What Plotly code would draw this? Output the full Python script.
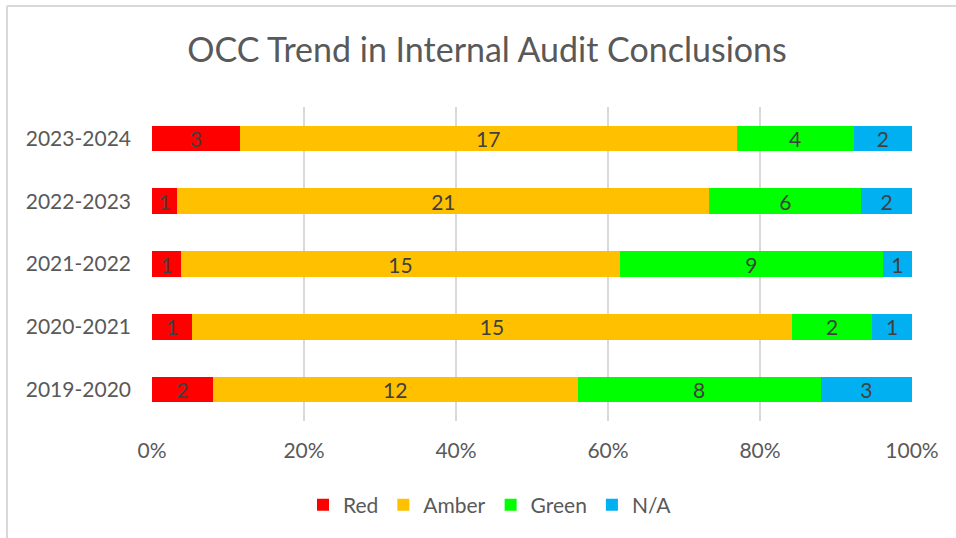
import plotly.graph_objects as go

categories = ["2019-2020", "2020-2021", "2021-2022", "2022-2023", "2023-2024"]
red = [2, 1, 1, 1, 3]
amber = [12, 15, 15, 21, 17]
green = [8, 2, 9, 6, 4]
na = [3, 1, 1, 2, 2]
tick_vals = [0, 20, 40, 60, 80, 100]
tick_text = ["0%", "20%", "40%", "60%", "80%", "100%"]

series = [("Red", red, "#FF0000"), ("Amber", amber, "#FFC000"),
          ("Green", green, "#00FF00"), ("N/A", na, "#00B0F0")]

FONT = "Lato, Calibri, sans-serif"
fig = go.Figure()
for name, vals, col in series:
    fig.add_trace(go.Bar(
        y=categories, x=vals, name=name, orientation="h",
        marker=dict(color=col, line=dict(width=0)),
        text=[str(v) for v in vals], textposition="inside",
        insidetextanchor="middle", textangle=0, constraintext="none",
        textfont=dict(family=FONT, size=21, color="#404040"),
        hoverinfo="skip",
    ))

W, H = 956, 538
L, R, T, B = 152, 44, 107, 117
pw, ph = W - L - R, H - T - B

fig.update_layout(
    width=W, height=H,
    barmode="stack", barnorm="percent", bargap=0.59,
    margin=dict(l=L, r=R, t=T, b=B),
    paper_bgcolor="white", plot_bgcolor="white",
    font=dict(family=FONT, color="#595959"),
    title=dict(text="OCC Trend in Internal Audit Conclusions",
               x=(487 - L) / pw, xref="paper", xanchor="center", y=1 - 50 / H, yanchor="middle",
               font=dict(family=FONT, size=34, color="#595959")),
    xaxis=dict(range=[0, 100], tickvals=tick_vals, ticktext=tick_text,
               showgrid=True, gridcolor="#D9D9D9", gridwidth=2, zeroline=False,
               showline=False, ticks="", ticklabelstandoff=15,
               tickfont=dict(size=21, color="#595959")),
    yaxis=dict(showgrid=False, zeroline=False, showline=False, ticks="",
               ticklabelstandoff=20, tickfont=dict(size=21, color="#595959")),
    legend=dict(orientation="h", x=(490 - L) / pw, xanchor="center", y=-(505 - (T + ph)) / ph,
                yanchor="middle", font=dict(size=21, color="#595959"),
                traceorder="normal", itemwidth=30),
    showlegend=True,
    shapes=[
        dict(type="line", xref="paper", yref="paper",
             x0=(7 - L) / pw, x1=(W - L) / pw, y0=(T + ph - 6) / ph, y1=(T + ph - 6) / ph,
             line=dict(color="#D9D9D9", width=2)),
        dict(type="line", xref="paper", yref="paper",
             x0=(7 - L) / pw, x1=(7 - L) / pw, y0=(T + ph - 6) / ph, y1=-(H - T - ph) / ph,
             line=dict(color="#D9D9D9", width=2)),
    ],
)

fig.write_html("out.html", config={"displayModeBar": False},
               post_script="document.body.style.margin='0';document.body.style.overflow='hidden';")
